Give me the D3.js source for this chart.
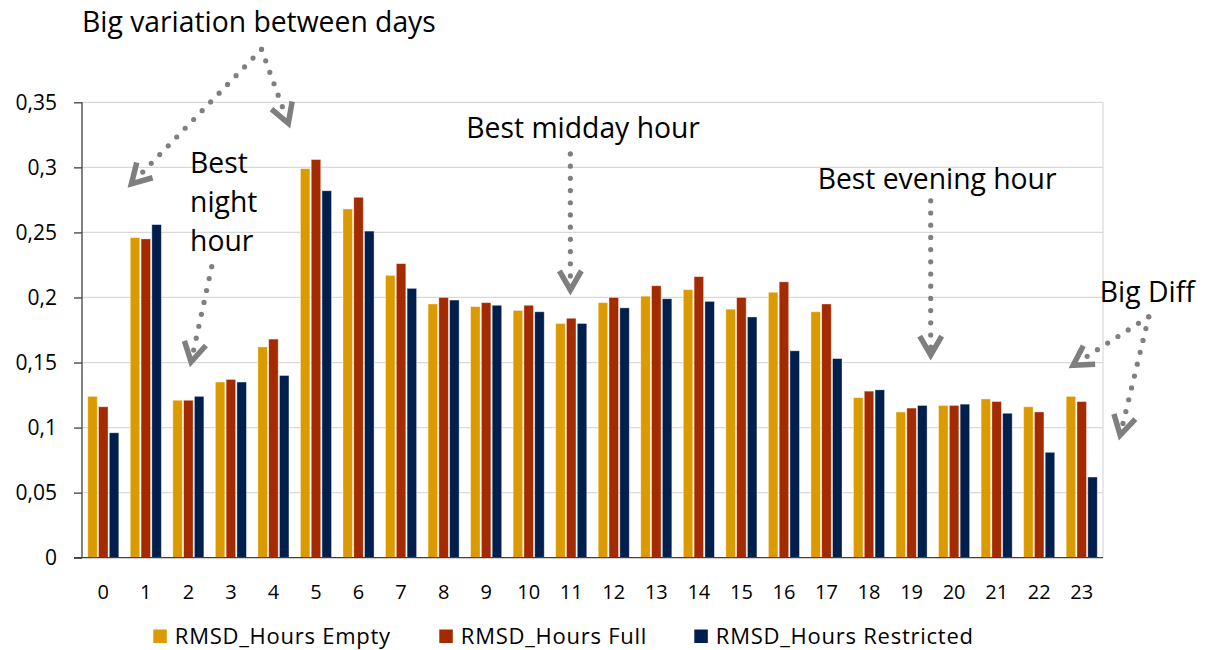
<!DOCTYPE html>
<html><head><meta charset="utf-8">
<script src="https://cdn.jsdelivr.net/npm/d3@7"></script>
<style>
body{margin:0;background:#fff;}
svg{display:block;font-family:'Open Sans',Lato,sans-serif;}
</style>
</head><body>
<svg id="chart" width="1207" height="650"></svg>
<script>
// ---------------- data ----------------
const hours = ["0","1","2","3","4","5","6","7","8","9","10","11","12","13","14","15","16","17","18","19","20","21","22","23"];
const seriesNames = ["RMSD_Hours Empty","RMSD_Hours Full","RMSD_Hours Restricted"];
const empty      = [0.124,0.246,0.121,0.135,0.162,0.299,0.268,0.217,0.195,0.193,0.190,0.180,0.196,0.201,0.206,0.191,0.204,0.189,0.123,0.112,0.117,0.122,0.116,0.124];
const full       = [0.116,0.245,0.121,0.137,0.168,0.306,0.277,0.226,0.200,0.196,0.194,0.184,0.200,0.209,0.216,0.200,0.212,0.195,0.128,0.115,0.117,0.120,0.112,0.120];
const restricted = [0.096,0.256,0.124,0.135,0.140,0.282,0.251,0.207,0.198,0.194,0.189,0.180,0.192,0.199,0.197,0.185,0.159,0.153,0.129,0.117,0.118,0.111,0.081,0.062];
const yTicks = [0,0.05,0.1,0.15,0.2,0.25,0.3,0.35];
const yTickLabels = ["0","0,05","0,1","0,15","0,2","0,25","0,3","0,35"];
const colors = ["#DB9B00","#A42A00","#001F4D"];

// annotations in data space: h = hour position, v = value
const annotations = [
  {lines:["Big variation between days"], h:-0.5, v:0.4043, anchor:"start"},
  {lines:["Best","night","hour"], h:2.04, v:0.2953, anchor:"start"},
  {lines:["Best midday hour"], h:11.28, v:0.3225, anchor:"middle"},
  {lines:["Best evening hour"], h:19.6, v:0.2834, anchor:"middle"},
  {lines:["Big Diff"], h:24.54, v:0.1967, anchor:"middle"}
];
const arrows = [
  {from:[3.72,0.3907], to:[0.58,0.2846]},
  {from:[3.72,0.3907], to:[4.39,0.3303]},
  {from:[2.55,0.2237], to:[2.04,0.1468]},
  {from:[10.98,0.3103], to:[10.98,0.2019]},
  {from:[19.45,0.2743], to:[19.45,0.1519]},
  {from:[24.575,0.1852], to:[22.70,0.1458]},
  {from:[24.575,0.1852], to:[23.876,0.0905]}
];

// ---------------- layout ----------------
const svg = d3.select("#chart");
const L = 82, R = 1103, T = 102.3, B = 557.7;

const x0 = d3.scaleBand().domain(hours).range([L,R]).paddingInner(0.27).paddingOuter(0.135);
const x1 = d3.scaleBand().domain(seriesNames).range([0,x0.bandwidth()]).paddingInner(0.12);
const y = d3.scaleLinear().domain([0,0.35]).range([B,T]);
const xc = d3.scaleLinear().domain([-0.5,23.5]).range([L,R]);

// gridlines
svg.append("g").selectAll("line").data(yTicks.filter(d=>d>0)).join("line")
  .attr("x1",L).attr("x2",R).attr("y1",d=>y(d)).attr("y2",d=>y(d))
  .attr("stroke","#d9d9d9").attr("stroke-width",1.2);
svg.append("line").attr("x1",R).attr("x2",R).attr("y1",T).attr("y2",B)
  .attr("stroke","#d9d9d9").attr("stroke-width",1.2);

// bars
const table = hours.map((h,i)=>({h, vals:[empty[i],full[i],restricted[i]]}));
const groups = svg.append("g").selectAll("g").data(table).join("g")
  .attr("transform",d=>`translate(${x0(d.h)},0)`);
groups.selectAll("rect").data(d=>d.vals.map((v,k)=>({k,v}))).join("rect")
  .attr("x",d=>x1(seriesNames[d.k]))
  .attr("width",x1.bandwidth())
  .attr("y",d=>y(d.v))
  .attr("height",d=>B-y(d.v))
  .attr("fill",d=>colors[d.k])
  .attr("stroke","rgba(255,255,255,0.45)").attr("stroke-width",0.8);

// y axis
const yAxis = d3.axisLeft(y).tickValues(yTicks).tickFormat((d,i)=>yTickLabels[i]).tickSize(8).tickPadding(17);
const gy = svg.append("g").attr("transform",`translate(${L},0)`).call(yAxis);
gy.select(".domain").attr("stroke","#404040").attr("stroke-width",1.3).attr("d",`M0,${T}V${B}`);
gy.selectAll(".tick line").attr("stroke","#404040").attr("stroke-width",1.3);
gy.selectAll("text").attr("font-size",21).attr("fill","#000").attr("font-family","'Open Sans'");

// x axis
const xAxis = d3.axisBottom(x0).tickSize(0).tickPadding(0);
const gx = svg.append("g").attr("transform",`translate(0,${B})`).call(xAxis);
gx.select(".domain").attr("stroke","#404040").attr("stroke-width",1.3).attr("d",`M${L-8},0H${R}`);
gx.selectAll("text").attr("y",41.6).attr("dy",0).attr("font-size",20).attr("fill","#000").attr("font-family","'Open Sans'");

// legend
const legendX = [153.3, 439.3, 694.3];
const lg = svg.append("g").selectAll("g").data(seriesNames).join("g")
  .attr("transform",(d,i)=>`translate(${legendX[i]},629.5)`);
lg.append("rect").attr("width",13.5).attr("height",13.5).attr("fill",(d,i)=>colors[i]);
lg.append("text").attr("x",21.5).attr("y",14).text(d=>d).attr("font-size",22)
  .attr("letter-spacing",0.75).attr("fill","#000");

// annotations
const ann = svg.append("g").attr("font-size",28.3).attr("fill","#000");
annotations.forEach(a=>{
  const t = ann.append("text").attr("x",xc(a.h)).attr("y",y(a.v)).attr("text-anchor",a.anchor);
  a.lines.forEach((ln,i)=>{
    t.append("tspan").attr("x",xc(a.h)).attr("dy",i===0?0:39).text(ln);
  });
});

const ag = svg.append("g");
arrows.forEach(a=>{
  const p0=[xc(a.from[0]),y(a.from[1])], p1=[xc(a.to[0]),y(a.to[1])];
  const dx=p1[0]-p0[0], dy=p1[1]-p0[1], len=Math.hypot(dx,dy);
  const ux=dx/len, uy=dy/len;
  const vtx=[p1[0]-ux*5, p1[1]-uy*5];
  const end=[p1[0]-ux*12, p1[1]-uy*12];
  ag.append("path").attr("d",d3.line()([p0,end]))
    .attr("stroke","#7f7f7f").attr("stroke-width",5.2).attr("stroke-linecap","round")
    .attr("stroke-dasharray","0 12.2").attr("fill","none");
  const ang=Math.atan2(-uy,-ux), ha=30*Math.PI/180, al=22;
  const a1=[vtx[0]+al*Math.cos(ang+ha), vtx[1]+al*Math.sin(ang+ha)];
  const a2=[vtx[0]+al*Math.cos(ang-ha), vtx[1]+al*Math.sin(ang-ha)];
  ag.append("path").attr("d",d3.line()([a1,vtx,a2]))
    .attr("stroke","#7f7f7f").attr("stroke-width",5.5).attr("fill","none")
    .attr("stroke-linejoin","miter").attr("stroke-linecap","butt");
});
</script>
</body></html>
